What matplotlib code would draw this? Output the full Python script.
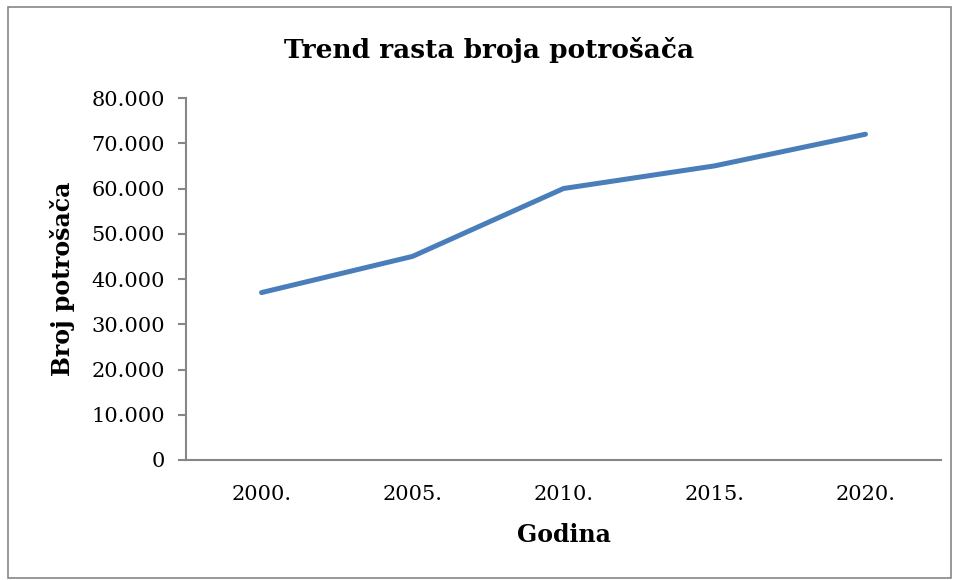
import matplotlib
matplotlib.use("Agg")
from matplotlib import pyplot as plt
from matplotlib.patches import Rectangle
from matplotlib.ticker import FuncFormatter

years = ["2000.", "2005.", "2010.", "2015.", "2020."]
consumers = [37000, 45000, 60000, 65000, 72000]
y_ticks = [0, 10000, 20000, 30000, 40000, 50000, 60000, 70000, 80000]

plt.rcParams["font.family"] = ["DejaVu Serif"]

fig = plt.figure(figsize=(9.55, 5.8), dpi=100)
ax = fig.add_axes([0.1948, 0.2069, 0.7905, 0.6241])

x = range(len(years))
ax.plot(x, consumers, color="#4A7EBB", linewidth=3.6, solid_capstyle="round",
        solid_joinstyle="round")

ax.set_xlim(-0.5, len(years) - 0.5)
ax.set_ylim(0, 80000)
ax.set_yticks(y_ticks)
ax.yaxis.set_major_formatter(
    FuncFormatter(lambda v, p: "0" if v == 0 else f"{int(v):,}".replace(",", "."))
)
ax.set_xticks(list(x))
ax.set_xticklabels(years)

for side in ("top", "right"):
    ax.spines[side].set_visible(False)
for side in ("left", "bottom"):
    ax.spines[side].set_color("#868686")
    ax.spines[side].set_linewidth(1.5)

ax.tick_params(axis="y", length=6, width=1.5, color="#868686", labelsize=15, pad=9)
ax.tick_params(axis="x", length=0, labelsize=15, pad=18)

ax.set_xlabel("Godina", fontsize=17, fontweight="bold", labelpad=14)
ax.set_ylabel("Broj potrošača", fontsize=17, fontweight="bold", labelpad=12)
fig.text(0.512, 0.913, "Trend rasta broja potrošača", ha="center", va="center",
         fontsize=19, fontweight="bold")

fig.patches.append(Rectangle((0.008, 0.004), 0.988, 0.984, transform=fig.transFigure,
                             fill=False, edgecolor="#868686", linewidth=1.2))

fig.savefig("out.png", dpi=100)
